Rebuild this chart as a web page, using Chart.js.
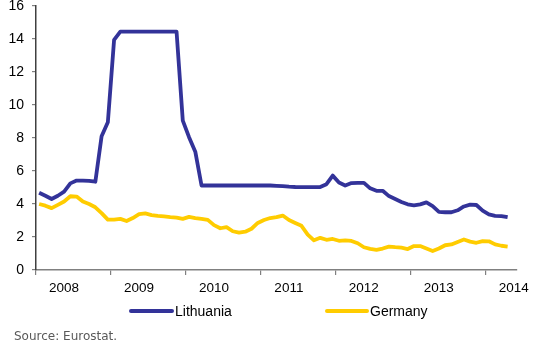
<!DOCTYPE html>
<html>
<head>
<meta charset="utf-8">
<script src="https://cdn.jsdelivr.net/npm/chart.js@4/dist/chart.umd.min.js"></script>
<style>
  html, body { margin: 0; padding: 0; background: #ffffff; }
  #wrap { width: 534px; height: 344px; position: relative; }
</style>
</head>
<body>
<div id="wrap"><canvas id="c" width="534" height="344"></canvas></div>
<script>
// Monthly data, Jan 2008 .. Apr 2014
const yearLabels = ['2008', '2009', '2010', '2011', '2012', '2013', '2014'];

const lithuania = [
  4.68, 4.5, 4.3, 4.5, 4.75, 5.25, 5.42, 5.42, 5.4, 5.35, 8.1, 8.95,
  13.95, 14.45, 14.45, 14.45, 14.45, 14.45, 14.45, 14.45, 14.45, 14.45, 14.45, 9.05,
  8.05, 7.17, 5.12, 5.12, 5.12, 5.12, 5.12, 5.12, 5.12, 5.12, 5.12, 5.12,
  5.12, 5.12, 5.1, 5.08, 5.05, 5.03, 5.02, 5.02, 5.02, 5.03, 5.2, 5.72,
  5.3, 5.12, 5.27, 5.28, 5.28, 4.95, 4.8, 4.8, 4.48, 4.3, 4.12, 3.98,
  3.92, 3.98, 4.1, 3.87, 3.52, 3.5, 3.5, 3.62, 3.85, 3.96, 3.94, 3.6,
  3.37, 3.28, 3.27, 3.2
];

const germany = [
  4.0, 3.9, 3.75, 3.95, 4.15, 4.47, 4.45, 4.15, 4.0, 3.8, 3.45, 3.05,
  3.05, 3.1, 2.97, 3.15, 3.38, 3.43, 3.33, 3.28, 3.25, 3.21, 3.18, 3.1,
  3.22, 3.15, 3.1, 3.04, 2.72, 2.53, 2.6, 2.35, 2.26, 2.32, 2.5, 2.85,
  3.03, 3.15, 3.2, 3.3, 3.03, 2.85, 2.68, 2.15, 1.8, 1.95, 1.83, 1.88,
  1.77, 1.8, 1.76, 1.62, 1.38, 1.28, 1.22, 1.3, 1.42, 1.38, 1.35, 1.27,
  1.45, 1.45, 1.3, 1.15, 1.3, 1.5, 1.55, 1.7, 1.85, 1.72, 1.65, 1.75,
  1.74, 1.55, 1.47, 1.42
];

const seriesNames = ['Lithuania', 'Germany'];
const seriesColors = ['#333399', '#FFCC00'];
const sourceText = 'Source: Eurostat.';

const toPoints = arr => arr.map((v, i) => ({ x: i, y: v }));

const legendAndSource = {
  id: 'legendAndSource',
  afterDraw(chart) {
    const ctx = chart.ctx;
    ctx.save();
    const items = [
      { x0: 131, x1: 172, tx: 175 },
      { x0: 327, x1: 367, tx: 370 }
    ];
    const y = 311;
    chart.data.datasets.forEach((ds, k) => {
      const it = items[k];
      ctx.strokeStyle = ds.borderColor;
      ctx.lineWidth = 4;
      ctx.lineCap = 'round';
      ctx.beginPath();
      ctx.moveTo(it.x0, y);
      ctx.lineTo(it.x1, y);
      ctx.stroke();
      ctx.fillStyle = '#000000';
      ctx.font = '14px "Liberation Sans", Arial, sans-serif';
      ctx.textBaseline = 'middle';
      ctx.textAlign = 'left';
      ctx.fillText(ds.label, it.tx, y + 1);
    });
    ctx.fillStyle = '#595959';
    ctx.font = '12px "DejaVu Sans", sans-serif';
    ctx.textBaseline = 'middle';
    ctx.fillText(sourceText, 14, 337);
    ctx.restore();
  }
};

new Chart(document.getElementById('c'), {
  type: 'line',
  data: {
    datasets: [
      {
        label: seriesNames[0],
        data: toPoints(lithuania),
        borderColor: seriesColors[0],
        backgroundColor: seriesColors[0],
        borderWidth: 3.8,
        pointRadius: 0,
        tension: 0,
        borderJoinStyle: 'round'
      },
      {
        label: seriesNames[1],
        data: toPoints(germany),
        borderColor: seriesColors[1],
        backgroundColor: seriesColors[1],
        borderWidth: 3.8,
        pointRadius: 0,
        tension: 0,
        borderJoinStyle: 'round'
      }
    ]
  },
  options: {
    responsive: false,
    animation: false,
    layout: { padding: { top: 6, right: 17, bottom: 48, left: 0 } },
    plugins: {
      legend: { display: false },
      tooltip: { enabled: false }
    },
    scales: {
      x: {
        type: 'linear',
        min: -0.5,
        max: 76.5,
        afterBuildTicks(scale) {
          scale.ticks = yearLabels.map((_, k) => ({ value: -0.5 + 12 * k }));
        },
        afterFit(scale) {
          scale.height = 26;
          scale.paddingLeft = 0;
          scale.paddingRight = 0;
        },
        ticks: {
          autoSkip: false,
          maxRotation: 0,
          labelOffset: 28,
          padding: 5,
          color: '#000000',
          font: { family: '"Liberation Sans", Arial, sans-serif', size: 13.5 },
          callback: (v, idx) => yearLabels[idx]
        },
        grid: {
          drawOnChartArea: false,
          drawTicks: true,
          tickLength: 5,
          color: '#808080',
          lineWidth: 1.2
        },
        border: { display: true, color: '#808080', width: 1.5 }
      },
      y: {
        min: 0,
        max: 16,
        afterFit(scale) {
          scale.width = 36;
          scale.paddingTop = 0;
          scale.paddingBottom = 0;
        },
        ticks: {
          stepSize: 2,
          padding: 8,
          color: '#000000',
          font: { family: '"Liberation Sans", Arial, sans-serif', size: 14, lineHeight: 1 }
        },
        grid: {
          drawOnChartArea: false,
          drawTicks: true,
          tickLength: 4,
          color: '#808080',
          lineWidth: 1.2
        },
        border: { display: true, color: '#404040', width: 1.5 }
      }
    }
  },
  plugins: [legendAndSource]
});
</script>
</body>
</html>
